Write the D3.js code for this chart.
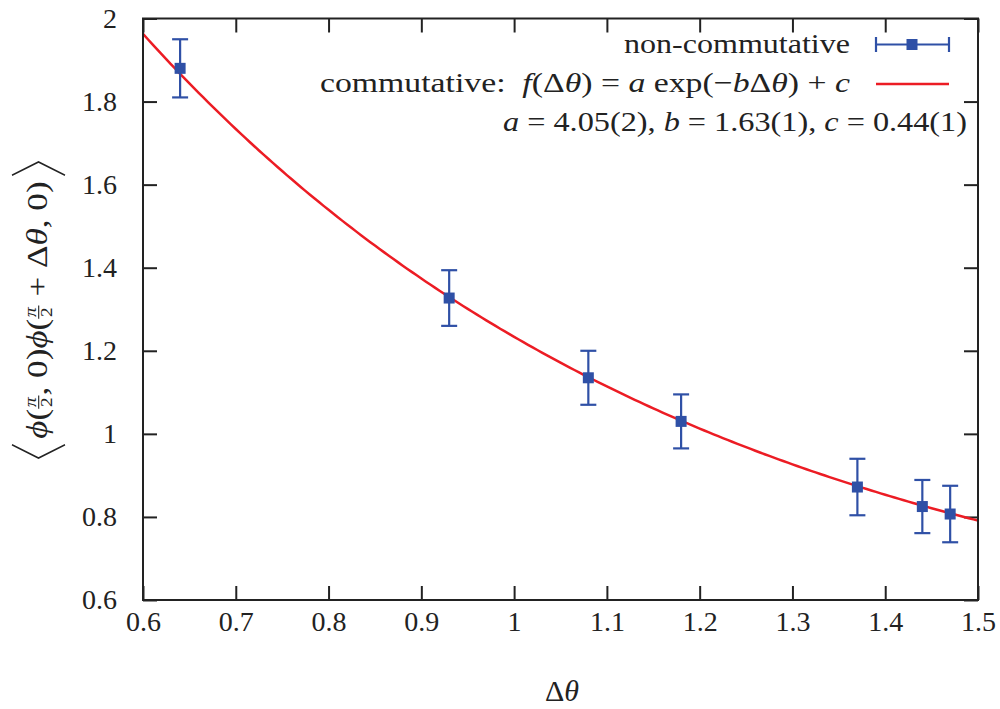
<!DOCTYPE html>
<html lang="en">
<head>
<meta charset="UTF-8">
<script src="https://d3js.org/d3.v7.min.js"></script>
<style>
  body { margin: 0; background: #fff; }
  svg, text { font-family: "Liberation Serif", "DejaVu Serif", serif; }
  text { fill: #222; }
</style>
</head>
<body>
<svg width="1000" height="709"></svg>
<script>
// measured points (non-commutative)
var dTheta = [0.64, 0.93, 1.08, 1.18, 1.37, 1.44, 1.47];
var corr = [1.880, 1.327, 1.135, 1.030, 0.872, 0.825, 0.807];
var corrErr = [0.070, 0.067, 0.065, 0.065, 0.068, 0.064, 0.068];
// fit parameters of the commutative curve, as printed in the legend
var fitA = 4.05, fitB = 1.63, fitC = 0.44;

var xTicks = [0.6, 0.7, 0.8, 0.9, 1.0, 1.1, 1.2, 1.3, 1.4, 1.5];
var xTickLabels = ["0.6", "0.7", "0.8", "0.9", "1", "1.1", "1.2", "1.3", "1.4", "1.5"];
var yTicks = [0.6, 0.8, 1.0, 1.2, 1.4, 1.6, 1.8, 2.0];
var yTickLabels = ["0.6", "0.8", "1", "1.2", "1.4", "1.6", "1.8", "2"];

var blue = "#2f50a6", red = "#ec1c24";
var fs = 28;
var serif = '"Liberation Serif", "DejaVu Serif", serif';
var sp = "\u00a0";

var svg = d3.select("svg");
var pLeft = 143, pRight = 978, pTop = 18.5, pBottom = 600;

var x = d3.scaleLinear().domain([0.6, 1.5]).range([pLeft, pRight]);
var y = d3.scaleLinear().domain([0.6, 2.0]).range([pBottom, pTop]);

// axes, ticks pointing inward on all four sides
function styleAxis(g) {
  g.attr("font-family", null).attr("font-size", null);
  g.select(".domain").remove();
  g.selectAll(".tick line").attr("stroke", "#222").attr("stroke-width", 2);
  g.selectAll(".tick text").style("font-size", fs + "px").style("font-family", serif).attr("fill", "#222");
}
svg.append("g").attr("transform", "translate(0," + pBottom + ")")
  .call(d3.axisBottom(x).tickValues(xTicks).tickFormat(function(d, i) { return xTickLabels[i]; })
    .tickSizeInner(-14).tickSizeOuter(0).tickPadding(11))
  .call(styleAxis);
svg.append("g").attr("transform", "translate(" + pLeft + ",0)")
  .call(d3.axisLeft(y).tickValues(yTicks).tickFormat(function(d, i) { return yTickLabels[i]; })
    .tickSizeInner(-14).tickSizeOuter(0).tickPadding(26))
  .call(styleAxis);
svg.append("g").attr("transform", "translate(0," + pTop + ")")
  .call(d3.axisTop(x).tickValues(xTicks).tickFormat("").tickSizeInner(-14).tickSizeOuter(0))
  .call(styleAxis);
svg.append("g").attr("transform", "translate(" + pRight + ",0)")
  .call(d3.axisRight(y).tickValues(yTicks).tickFormat("").tickSizeInner(-14).tickSizeOuter(0))
  .call(styleAxis);

// fit curve
var fitX = d3.range(0.6, 1.5001, 0.005);
svg.append("clipPath").attr("id", "plotclip").append("rect")
  .attr("x", pLeft).attr("y", pTop).attr("width", pRight - pLeft).attr("height", pBottom - pTop);
svg.append("path")
  .datum(fitX)
  .attr("clip-path", "url(#plotclip)")
  .attr("fill", "none").attr("stroke", red).attr("stroke-width", 2.5)
  .attr("d", d3.line().x(function(d) { return x(d); })
    .y(function(d) { return y(fitA * Math.exp(-fitB * d) + fitC); }));

// error bars + squares
var pts = svg.append("g").selectAll("g").data(dTheta).enter().append("g");
pts.append("line")
  .attr("x1", function(d) { return x(d); }).attr("x2", function(d) { return x(d); })
  .attr("y1", function(d, i) { return y(corr[i] + corrErr[i]); })
  .attr("y2", function(d, i) { return y(corr[i] - corrErr[i]); })
  .attr("stroke", blue).attr("stroke-width", 2.2);
[1, -1].forEach(function(s) {
  pts.append("line")
    .attr("x1", function(d) { return x(d) - 8; }).attr("x2", function(d) { return x(d) + 8; })
    .attr("y1", function(d, i) { return y(corr[i] + s * corrErr[i]); })
    .attr("y2", function(d, i) { return y(corr[i] + s * corrErr[i]); })
    .attr("stroke", blue).attr("stroke-width", 2.2);
});
pts.append("rect")
  .attr("x", function(d) { return x(d) - 5.5; })
  .attr("y", function(d, i) { return y(corr[i]) - 5.5; })
  .attr("width", 11).attr("height", 11).attr("fill", blue);

// frame
svg.append("rect").attr("x", pLeft).attr("y", pTop)
  .attr("width", pRight - pLeft).attr("height", pBottom - pTop)
  .attr("fill", "none").attr("stroke", "#222").attr("stroke-width", 2);

// legend (stretched to the wider Computer Modern widths of the original)
function mathText(xEnd, yp, width, parts) {
  var t = svg.append("text").attr("x", xEnd - width).attr("y", yp)
    .attr("textLength", width).attr("lengthAdjust", "spacingAndGlyphs")
    .style("font-size", fs + "px").style("font-family", serif);
  parts.forEach(function(p) {
    t.append("tspan").text(p[0]).style("font-style", p[1] ? "italic" : "normal");
  });
  return t;
}
mathText(850, 53, 226, [["non-commutative", 0]]);
mathText(850, 92, 530, [["commutative:" + sp + sp, 0], ["f", 1], ["(Δ", 0], ["θ", 1], [")" + sp + "=" + sp, 0], ["a", 1],
  [sp + "exp(−", 0], ["b", 1], ["Δ", 0], ["θ", 1], [")" + sp + "+" + sp, 0], ["c", 1]]);
mathText(967, 131, 464, [["a", 1], [sp + "= 4.05(2)," + sp, 0], ["b", 1], [sp + "= 1.63(1)," + sp, 0], ["c", 1], [sp + "= 0.44(1)", 0]]);

var lg = svg.append("g");
lg.append("line").attr("x1", 876).attr("x2", 949).attr("y1", 44.5).attr("y2", 44.5)
  .attr("stroke", blue).attr("stroke-width", 2.2);
[876, 949].forEach(function(cx) {
  lg.append("line").attr("x1", cx).attr("x2", cx).attr("y1", 37).attr("y2", 52)
    .attr("stroke", blue).attr("stroke-width", 2.2);
});
lg.append("rect").attr("x", 912 - 5.5).attr("y", 44.5 - 5.5).attr("width", 11).attr("height", 11).attr("fill", blue);
lg.append("line").attr("x1", 876).attr("x2", 949).attr("y1", 84).attr("y2", 84)
  .attr("stroke", red).attr("stroke-width", 2.5);

// x label
svg.append("text").attr("x", 562).attr("y", 701).attr("text-anchor", "middle")
  .style("font-size", "30px").style("font-family", serif)
  .call(function(t) {
    t.append("tspan").text("Δ");
    t.append("tspan").text("θ").style("font-style", "italic");
  });

// y label: < phi(pi/2,0) phi(pi/2 + dtheta,0) >, laid out piece by piece
var ylFs = 29;
var yl = svg.append("g").attr("transform", "translate(47,310) rotate(-90)");
var inner = yl.append("g");
var cursor = 0;
function piece(str, italic) {
  var t = inner.append("text").attr("x", cursor).attr("y", 0)
    .style("font-size", ylFs + "px").style("font-family", serif)
    .style("font-style", italic ? "italic" : "normal").text(str);
  cursor += t.node().getComputedTextLength();
}
function frac(num, den) {
  var fsz = 16;
  var a = inner.append("text").attr("y", -11).style("font-size", fsz + "px").style("font-family", serif)
    .style("font-style", "italic").text(num);
  var b = inner.append("text").attr("y", 4.5).style("font-size", fsz + "px").style("font-family", serif).text(den);
  var w = Math.max(a.node().getComputedTextLength(), b.node().getComputedTextLength()) + 3;
  a.attr("x", cursor + (w - a.node().getComputedTextLength()) / 2);
  b.attr("x", cursor + (w - b.node().getComputedTextLength()) / 2);
  inner.append("line").attr("x1", cursor).attr("x2", cursor + w).attr("y1", -8.3).attr("y2", -8.3)
    .attr("stroke", "#222").attr("stroke-width", 1.1);
  cursor += w;
}
var bw = 11;
cursor = bw + 5;
piece("ϕ", 1); piece("(", 0); frac("π", "2"); piece("," + sp + "0)", 0);
piece("ϕ", 1); piece("(", 0); frac("π", "2"); piece(sp + "+" + sp + "Δ", 0); piece("θ", 1); piece("," + sp + "0)", 0);
cursor += 5;
var total = cursor + bw;
inner.append("path").attr("d", "M" + bw + ",-35 L0,-8.5 L" + bw + ",18")
  .attr("fill", "none").attr("stroke", "#222").attr("stroke-width", 1.4);
inner.append("path").attr("d", "M" + cursor + ",-35 L" + total + ",-8.5 L" + cursor + ",18")
  .attr("fill", "none").attr("stroke", "#222").attr("stroke-width", 1.4);
// stretch along the text direction to the span of the original label
var sx = 296 / total;
inner.attr("transform", "scale(" + sx + ",1) translate(" + (-total / 2) + ",0)");
</script>
</body>
</html>
